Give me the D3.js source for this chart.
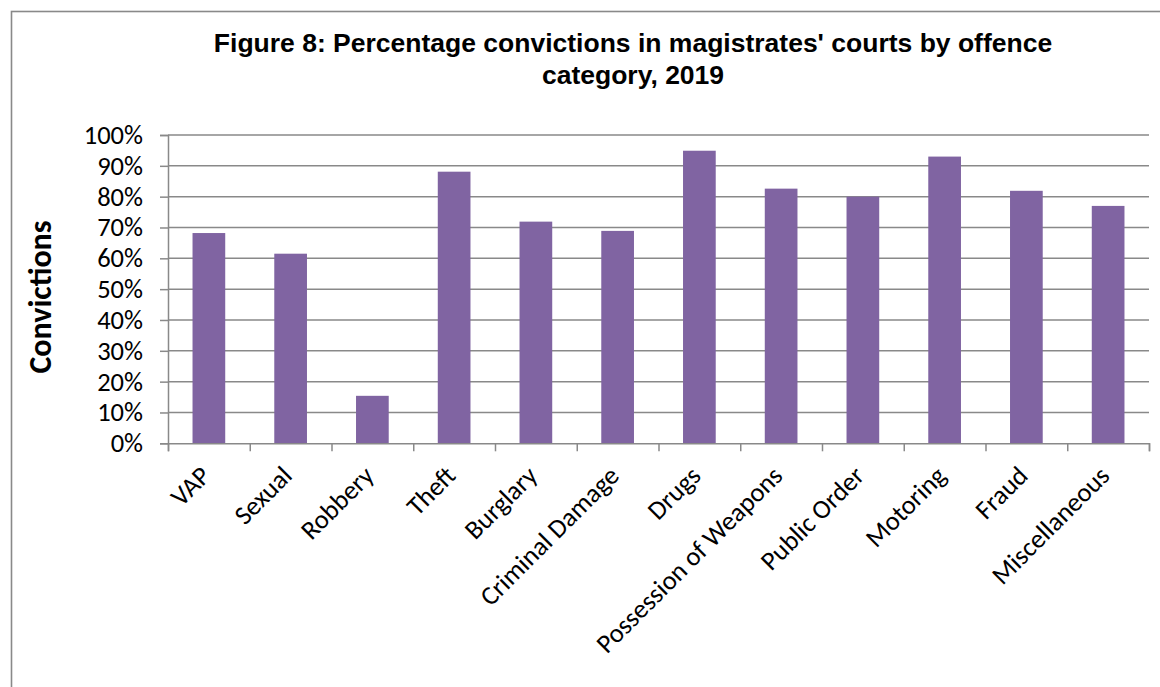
<!DOCTYPE html>
<html>
<head>
<meta charset="utf-8">
<script src="https://cdn.jsdelivr.net/npm/d3@7"></script>
<style>
  body { margin: 0; background: #fff; }
  svg { display: block; }
</style>
</head>
<body>
<svg id="chart" width="1160" height="687"></svg>
<script>
const categories = ['VAP', 'Sexual', 'Robbery', 'Theft', 'Burglary', 'Criminal Damage', 'Drugs',
    'Possession of Weapons', 'Public Order', 'Motoring', 'Fraud', 'Miscellaneous'];
const convictionPct = [68.2, 61.5, 15.4, 88.1, 71.9, 68.9, 94.9, 82.6, 80.0, 93.0, 81.9, 77.0];
const yTickValues = [0, 10, 20, 30, 40, 50, 60, 70, 80, 90, 100];
const titleLines = ["Figure 8: Percentage convictions in magistrates' courts by offence", 'category, 2019'];
const yTitle = 'Convictions';

const svg = d3.select('#chart');
const width = +svg.attr('width');
const height = +svg.attr('height');
const plot = { left: 168, right: 1149, top: 135, bottom: 443.3 };
const gray = '#898989';
const labelFont = 'Carlito, Calibri, Lato, sans-serif';

svg.append('rect').attr('width', width).attr('height', height).attr('fill', '#fff');

// chart area border (runs off the right and bottom edge)
svg.append('rect')
    .attr('x', 11.5).attr('y', 11.5)
    .attr('width', width + 50).attr('height', height + 50)
    .attr('fill', 'none').attr('stroke', gray).attr('stroke-width', 1.6);

const x = d3.scaleBand().domain(categories).range([plot.left, plot.right])
    .paddingInner(0.6).paddingOuter(0.3);
const xEdges = d3.scaleLinear().domain([0, categories.length]).range([plot.left, plot.right]);
const y = d3.scaleLinear().domain([0, 100]).range([plot.bottom, plot.top]);

// gridlines
svg.append('g')
    .selectAll('line')
    .data(yTickValues.slice(1))
    .join('line')
    .attr('x1', plot.left).attr('x2', plot.right)
    .attr('y1', d => y(d)).attr('y2', d => y(d))
    .attr('stroke', gray).attr('stroke-width', 1.5);

// bars
svg.append('g')
    .selectAll('rect')
    .data(categories)
    .join('rect')
    .attr('x', d => x(d))
    .attr('width', x.bandwidth())
    .attr('y', (d, i) => y(convictionPct[i]))
    .attr('height', (d, i) => y(0) - y(convictionPct[i]))
    .attr('fill', '#8064A2');

// y axis
const yAxis = svg.append('g')
    .attr('transform', `translate(${plot.left},0)`)
    .call(d3.axisLeft(y).tickValues(yTickValues).tickFormat(d => d + '%').tickSize(8).tickPadding(17));
yAxis.selectAll('line, path').attr('stroke', gray).attr('stroke-width', 1.5);
yAxis.selectAll('text').attr('font-family', labelFont).attr('font-size', 26.5).attr('fill', '#000');

// x axis: boundary ticks
const xTicks = svg.append('g')
    .attr('transform', `translate(0,${plot.bottom})`)
    .call(d3.axisBottom(xEdges).ticks(categories.length).tickFormat('').tickSize(8).tickSizeOuter(8));
xTicks.selectAll('line, path').attr('stroke', gray).attr('stroke-width', 1.5);

// x axis: category labels
const xLabels = svg.append('g')
    .attr('transform', `translate(0,${plot.bottom})`)
    .call(d3.axisBottom(x).tickSize(0));
xLabels.select('.domain').remove();
xLabels.selectAll('text')
    .attr('font-family', labelFont).attr('font-size', 26.5).attr('fill', '#000')
    .attr('text-anchor', 'end')
    .attr('x', 0).attr('y', 0).attr('dy', 0)
    .attr('transform', 'translate(3,34) rotate(-45)');

// title
const title = svg.append('text')
    .attr('text-anchor', 'middle')
    .attr('font-family', 'Arial, "Liberation Sans", sans-serif')
    .attr('font-weight', 'bold').attr('font-size', 26.5);
title.selectAll('tspan')
    .data(titleLines)
    .join('tspan')
    .attr('x', 633)
    .attr('y', (d, i) => 52 + i * 32)
    .text(d => d);

// y axis title
svg.append('text')
    .attr('transform', 'translate(51,297) rotate(-90)')
    .attr('text-anchor', 'middle')
    .attr('font-family', labelFont)
    .attr('font-weight', 'bold').attr('font-size', 32)
    .text(yTitle);
</script>
</body>
</html>
